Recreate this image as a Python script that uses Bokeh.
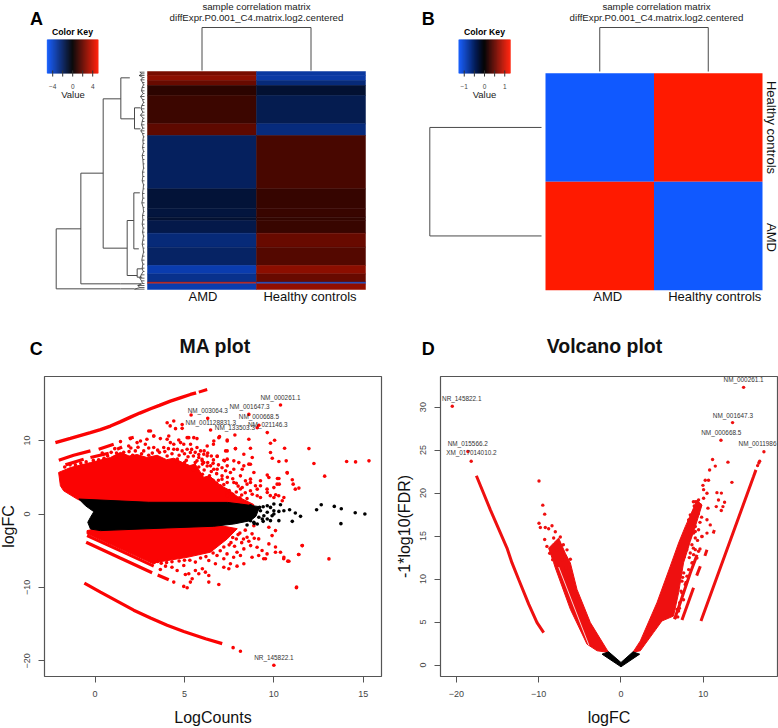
from bokeh.plotting import figure
from bokeh.layouts import column, row
from bokeh.models import Range1d, LinearColorMapper, FixedTicker, ColumnDataSource
from bokeh.transform import transform
from bokeh.core.properties import value
from bokeh.embed import file_html
from bokeh.resources import INLINE

FONT = "Liberation Sans"
RED = "#fb0303"
LINE = "#4a4a4a"
TXT = "#222222"
BLUE_END = (16, 89, 255)
RED_END = (255, 26, 0)

palette = []
for i in range(128):
    f = (127 - i) / 127
    palette.append("#%02x%02x%02x" % tuple(int(c * f) for c in BLUE_END))
for i in range(128):
    f = i / 127
    palette.append("#%02x%02x%02x" % tuple(int(c * f) for c in RED_END))

# ---------- heatmap A ----------
samples = ["AMD", "Healthy controls"]
title_1 = "sample correlation matrix"
title_2 = "diffExpr.P0.001_C4.matrix.log2.centered"
rows_top = [0, 12, 27, 42, 72, 157, 192, 352, 412, 437, 447, 485, 527, 582, 607, 632, 637]
rows_bot = [12, 27, 42, 72, 157, 192, 352, 412, 437, 447, 485, 527, 582, 607, 632, 637, 654]
amd_vals = [2.4, 2.8, 2.1, 0.9, 1.2, 1.9, -1.9, -1.15, -1.25, -1.0, -1.5, -2.4, -2.0, -3.5, -2.8, 3.8, -3.5]
hc_vals = [-3.2, -3.3, -2.4, -1.0, -1.6, -2.5, 1.45, 1.1, 1.15, 1.0, 1.15, 2.1, 1.7, 2.8, 2.1, -3.8, 2.9]
key_a_ticks = [-4, -2, 0, 2, 4]
key_a_labels = ["\u22124", "0", "4"]
key_a_label_at = [-4, 0, 4]
key_a_steps = [-5.1 + 0.2 * i for i in range(51)]
# row dendrogram of A: height, lower row, upper row of each join, then arms
dend_h = [265, 191, 124, 71, 30, 52, 32, 22]
dend_r1 = [472, 305, 82, 19, 109, 447, 364, 592]
dend_r2 = [652, 637, 530, 142, 172, 612, 532, 617]
arm_h_from = [265, 265, 191, 191, 124, 124, 71, 71, 30, 30, 52, 52, 32, 32, 22, 22, 72, 72]
arm_h_to = [191, 72, 124, 72, 71, 52, 44, 30, 12, 12, 32, 22, 14, 17, 7, 7, 30, 10]
arm_r = [472, 652, 305, 637, 82, 530, 19, 142, 109, 172, 447, 612, 364, 532, 592, 617, 652, 637]
leaf_r = [2, 7, 12, 18, 25, 33, 40, 48, 58, 66, 75, 84, 93, 102, 112, 122, 131, 140, 150, 160, 170, 178, 186,
          196, 206, 216, 228, 240, 252, 264, 277, 290, 302, 315, 328, 340, 352, 366, 380, 394, 408, 420, 432,
          445, 458, 470, 482, 494, 506, 518, 530, 542, 554, 566, 578, 590, 600, 610, 620, 628, 636, 642, 648, 653]
leaf_h = [14, 8, 16, 5, 11, 6, 3, 7, 9, 4, 12, 6, 3, 8, 10, 5, 12, 4, 7, 9, 5, 11, 6, 3, 5, 4, 6, 3, 7, 5, 4, 3,
          6, 5, 7, 3, 4, 6, 5, 8, 4, 3, 6, 5, 7, 4, 6, 3, 5, 7, 4, 3, 6, 8, 5, 7, 4, 10, 14, 9, 6, 20, 14, 30]

# ---------- heatmap B ----------
corr_amd = [-1, 1]
corr_hc = [1, -1]
key_b_ticks = [-1, -0.5, 0, 0.5, 1]
key_b_labels = ["\u22121", "0", "1"]
key_b_label_at = [-1, 0, 1]
key_b_steps = [-1.27 + 0.05 * i for i in range(51)]

# ---------- MA plot ----------
ma_band_1 = [(-2.22, 9.72), (-1.38, 10.3), (-0.26, 11.08), (0.3, 11.5), (0.86, 11.98), (1.4, 12.55), (1.98, 13.2), (2.5, 13.75),
             (3.1, 14.34), (3.6, 14.8), (4.21, 15.37), (4.8, 15.85), (5.33, 16.28), (5.65, 16.5)]
ma_band_1b = [(5.8, 16.6), (6.27, 16.96)]
ma_band_2a = [(-2.03, 7.32), (-1.2, 8.0), (-0.26, 8.6)]
ma_band_2b = [(0.2, 8.82), (1.04, 9.5)]
ma_band_2c = [(1.88, 10.27), (2.16, 10.45)]
ma_band_3a = [(-1.66, 6.69), (-0.64, 7.46)]
ma_band_3b = [(-0.26, 7.69), (0.76, 8.28)]
ma_band_3c = [(1.23, 8.82), (1.51, 9.13)]
ma_band_4 = [(-0.5, -3.84), (1.4, -6.0), (3.19, -8.0)]
ma_band_4b = [(3.5, -8.3), (4.12, -8.96)]
ma_band_5 = [(-0.45, -2.95), (1.4, -5.0), (3.28, -7.1)]
ma_band_6 = [(-0.6, -9.41), (0.3, -10.63), (1.23, -11.86), (2.16, -13.1), (3.1, -14.16), (4.03, -15.16), (4.96, -16.0), (6.18, -17.0),
             (7.11, -17.65)]
ma_red_up = [(-2.04, 5.66), (-1.38, 6.33), (-0.26, 7.0), (0.86, 7.7), (1.42, 8.4), (1.9, 7.9), (2.35, 8.1), (2.9, 7.7), (3.47, 8.0),
             (4.0, 7.4), (4.4, 7.6), (4.9, 7.0), (5.3, 6.6), (5.6, 6.8), (6.07, 5.0), (6.4, 5.2), (7.0, 3.9), (7.4, 3.4), (7.95, 2.4),
             (8.87, 1.3), (8.87, 1.0), (-0.6, 1.6), (-1.0, 2.03), (-1.76, 3.16), (-1.94, 3.84)]
ma_red_low = [(-0.45, -2.26), (0.48, -1.8), (7.0, -1.58), (7.95, -2.0), (7.39, -3.4), (6.45, -5.2), (5.15, -5.9),
              (3.47, -6.56), (3.28, -6.8), (-0.45, -2.7)]
ma_black = [(-0.91, 2.04), (3.0, 1.6), (7.4, 1.58), (8.13, 1.36), (9.2, 1.0), (9.0, -0.3), (8.7, -0.9), (7.76, -1.36),
            (6.64, -1.67), (4.03, -1.9), (0.3, -2.26), (-0.26, -2.04), (-0.41, -1.13), (-0.26, -0.45), (-0.07, 0.32),
            (-0.54, 1.13)]
ma_red_pts = [(10.37, 14.84), (8.6, 13.57), (5.37, 13.48), (6.3, 13.03), (4.03, 12.44), (4.4, 12.67), (4.2, 12.0),
              (4.5, 11.63), (4.87, 12.2), (4.87, 11.67), (6.46, 11.45), (9.16, 12.08), (9.07, 11.76), (9.63, 11.09),
              (6.96, 10.54), (7.82, 10.77), (7.39, 9.95), (8.6, 10.18), (10.04, 10.05), (9.81, 9.64), (8.69, 8.96),
              (10.6, 8.96), (11.96, 8.91), (9.81, 8.37), (12.24, 6.88), (14.07, 7.15), (14.57, 7.1), (15.32, 7.24),
              (10.28, 7.15), (10.69, 7.24), (9.91, 7.6), (8.32, 8.14), (7.85, 8.91), (7.39, 8.6), (7.24, 7.24),
              (8.79, 7.69), (7.39, 7.47), (6.83, 7.83), (6.27, 7.92), (5.9, 8.6), (5.34, 9.5), (5.52, 10.4),
              (5.15, 10.4), (4.4, 9.5), (4.78, 9.73), (4.03, 10.18), (3.28, 10.63), (3.0, 11.3), (2.54, 9.95),
              (8.32, 6.56), (8.6, 6.79), (7.76, 6.1), (7.39, 6.56), (6.83, 6.1), (6.46, 6.56), (6.08, 7.0), (5.7, 7.24),
              (8.13, 5.2), (8.69, 4.75), (9.25, 4.52), (9.63, 5.3), (10.2, 4.84), (10.75, 5.57), (11.03, 4.66),
              (11.08, 4.07), (11.2, 3.39), (11.4, 3.53), (12.84, 5.16), (10.56, 2.26), (10.47, 1.81), (10.1, 2.62),
              (7.76, 4.3), (7.0, 3.85), (8.13, 3.4), (8.5, 4.07), (9.07, 3.39), (9.63, 2.94), (9.25, 2.26), (7.39, 2.94),
              (8.79, 2.7), (10.0, 3.6), (10.3, 4.07), (9.8, 2.5),
              (1.98, 10.27), (1.42, 9.86), (3.1, 11.3), (3.28, 10.63), (3.65, 10.27), (4.12, 10.63), (4.68, 10.08),
              (5.24, 10.4), (5.7, 10.27), (4.21, 9.73), (2.9, 10.18), (2.35, 9.73), (1.88, 9.27), (3.28, 9.05), (2.81, 9.5),
              (3.84, 9.05), (4.4, 8.82), (4.96, 9.5), (5.15, 8.82), (5.7, 9.05), (6.27, 9.27), (6.62, 9.5), (6.08, 8.14),
              (5.5, 7.9), (4.87, 8.6), (6.83, 7.9), (5.98, 7.46), (4.03, 7.9), (2.72, 8.6), (2.25, 8.6), (0.9, 8.4),
              (3.0, 8.0), (3.6, 8.4), (4.6, 7.5), (5.1, 7.3), (1.9, 8.5), (1.1, 8.9), (0.4, 8.3),
              (6.64, 9.95), (6.92, 10.4), (7.39, 10.08), (7.85, 8.9), (7.3, 8.6), (8.69, 6.78), (8.04, 7.0), (7.76, 7.24),
              (7.2, 7.33), (6.62, 7.37), (5.99, 7.24), (8.23, 6.1), (7.57, 5.66), (8.88, 5.66), (9.72, 4.98), (10.28, 4.84),
              (10.74, 5.66), (10.18, 4.07), (10.27, 2.48), (10.0, 2.26), (9.62, 3.39), (8.97, 3.84), (8.69, 4.3), (8.41, 4.52),
              (9.25, 3.84), (8.69, 3.16), (9.07, 2.48), (8.23, 3.62), (7.39, 4.3), (7.1, 4.75), (6.64, 6.1), (6.27, 6.55),
              (5.8, 7.7), (5.33, 8.37), (6.4, 5.2), (6.9, 4.6), (7.5, 3.2), (8.2, 2.6), (7.9, 3.0), (8.5, 2.1), (6.6, 4.6),
              (2.0, 9.0), (2.4, 9.1), (2.6, 8.2), (3.0, 9.0), (3.2, 8.3), (3.5, 8.7), (3.9, 8.5), (4.1, 8.9), (4.3, 8.2), (4.6, 8.8),
              (4.7, 8.0), (5.0, 8.2), (5.2, 7.8), (5.4, 8.8), (5.6, 8.4), (5.8, 8.1), (6.1, 8.6), (6.3, 8.3), (6.5, 7.9), (6.0, 6.8),
              (6.3, 7.0), (6.6, 6.9), (6.9, 6.7), (7.1, 6.3), (7.3, 5.9), (5.6, 7.0), (5.8, 6.4), (6.1, 6.0), (6.5, 5.8), (6.8, 5.5),
              (7.1, 5.2), (7.4, 5.0), (7.7, 4.8), (7.9, 4.2), (8.0, 3.8), (7.2, 4.0), (6.8, 4.2), (5.5, 6.0), (6.0, 5.4), (4.6, 7.1),
              (5.0, 7.0), (7.7, 2.7), (8.1, 2.2), (8.4, 2.9), (7.4, 2.5),
              (-1.7, 6.4), (-1.4, 6.7), (-1.1, 6.7), (-0.8, 6.9), (-0.5, 7.1), (-0.1, 7.3), (0.2, 7.4), (0.5, 7.6), (0.7, 7.9), (1.2, 8.3),
              (1.6, 8.4), (2.1, 8.0),
              (11.58, -4.3), (11.38, -5.52), (11.26, -10.04), (10.78, -6.42), (10.55, -6.1), (10.37, -5.2), (10.09, -4.5),
              (9.62, -5.43), (9.53, -6.1), (9.15, -5.65), (9.34, -4.97), (9.06, -4.52), (9.15, -3.39), (9.72, -1.8),
              (10.09, -2.26), (9.9, -2.94), (9.72, -4.07), (8.88, -1.6), (8.78, -2.7), (8.5, -3.16), (8.7, -4.3), (8.32, -4.75),
              (8.13, -5.65), (8.78, -5.88), (8.32, -6.78), (7.94, -7.1), (7.57, -6.78), (7.2, -7.24), (7.48, -7.46), (6.92, -9.6),
              (6.36, -9.27), (6.36, -8.37), (6.17, -7.92), (6.0, -7.46), (5.61, -7.69), (5.8, -8.14), (5.43, -8.82), (5.33, -9.27),
              (5.15, -10.04), (4.96, -9.86), (4.4, -9.27), (5.05, -8.23), (5.24, -8.14), (4.59, -7.69), (4.3, -7.24), (4.96, -7.01),
              (3.94, -7.1), (3.65, -7.55), (3.5, -6.47), (6.73, -6.78), (6.36, -6.33), (5.61, -6.55), (7.2, -6.1), (9.43, -6.1),
              (7.94, -5.2), (7.38, -5.43), (7.75, -5.88), (6.82, -5.65), (13.08, -6.11), (11.59, -4.3), (11.4, -5.52),
              (10.84, -6.43), (10.56, -5.88), (10.09, -5.2), (7.72, -18.2), (8.13, -18.7), (10.0, -20.6), (11.27, -9.95),
              (8.2, -3.9), (7.8, -4.4), (7.5, -4.2), (8.0, -2.8), (8.4, -2.2),
              (3.7, -6.7), (4.0, -6.6), (4.3, -6.5), (4.7, -6.4), (5.0, -6.3), (5.3, -6.3), (5.9, -6.0), (6.2, -5.8), (6.6, -5.3),
              (7.0, -5.0), (7.2, -4.5), (7.6, -3.9), (7.9, -3.4), (8.1, -2.6), (8.3, -3.4), (8.6, -3.7), (8.9, -3.3), (7.7, -3.2)]
ma_black_pts = [(10.0, 1.36), (10.37, 1.27), (10.88, 0.59), (10.56, 0.45), (11.2, 0.14), (11.49, -0.32), (11.03, -1.0),
                (10.28, -0.9), (10.28, 0.36), (9.9, -0.23), (10.0, 0.0), (10.0, 0.45), (9.63, 1.13), (9.81, 0.9), (9.63, 0.23),
                (9.44, -0.23), (9.35, -0.68), (9.63, -0.68), (9.16, -0.45), (8.88, -1.13), (9.07, -1.36), (8.5, -1.5), (8.69, -0.9),
                (9.25, 0.45), (9.07, 0.68), (8.69, 1.13), (9.81, -0.9), (12.39, 0.59), (12.65, 1.27), (13.38, 1.04), (13.77, 0.72),
                (13.75, -1.31), (14.55, 0.18), (15.09, 0.0), (9.4, 1.0), (9.2, 0.9), (8.9, -1.3), (9.4, -1.0)]
ma_labels = ["NM_000261.1", "NM_003064.3", "NM_001647.3", "NM_000668.5", "NM_001128831.3", "NM_133503.3", "NM_021146.3",
             "NR_145822.1"]
ma_label_x = [10.37, 6.3, 8.64, 9.16, 6.47, 7.82, 9.66, 10.0]
ma_label_y = [15.93, 14.12, 14.62, 13.26, 12.44, 11.81, 12.17, -19.5]

# ---------- volcano plot ----------
vo_left_mass = [(-1.5, 1.47), (-3.72, 4.94), (-5.34, 8.79), (-6.15, 11.88), (-6.76, 13.0), (-7.57, 14.77), (-8.18, 14.2),
                (-8.79, 13.6), (-8.18, 11.9), (-7.98, 11.3), (-6.15, 6.48), (-4.13, 2.43), (-2.9, 1.66)]
vo_right_mass = [(1.46, 1.5), (2.35, 2.81), (4.37, 7.25), (5.99, 11.5), (7.0, 14.2), (7.81, 16.1), (8.63, 17.85), (9.23, 19.2),
                 (9.84, 18.6), (9.03, 16.1), (8.42, 14.38), (7.6, 11.88), (7.0, 8.4), (6.39, 5.7), (4.98, 5.13), (3.96, 3.78),
                 (2.35, 1.66)]
vo_black = [(-2.3, 1.27), (-1.5, 1.54), (0.0, 0.3), (1.46, 1.54), (2.27, 1.27), (0.0, -0.2)]
vo_band_l = [(-17.57, 22.02), (-15.87, 18.05), (-13.85, 13.61), (-13.24, 11.88), (-12.43, 9.95), (-11.2, 7.06), (-10.2, 4.94), (-9.39, 3.78)]
vo_band_r = [(9.72, 5.13), (16.1, 21.9), (16.4, 22.7)]
vo_band_r2 = [(7.41, 5.24), (8.82, 8.99)]
vo_band_r3 = [(6.51, 5.32), (7.2, 7.25), (8.42, 10.7), (9.03, 12.26), (9.23, 12.84)]
vo_band_r4 = [(9.2, 10.4), (9.64, 11.5)]
vo_band_r5 = [(10.2, 12.7), (10.45, 13.4)]
vo_band_r6 = [(11.2, 15.3), (11.35, 15.7)]
vo_gap = [(-7.57, 11.4), (-3.9, 2.3)]
vo_pts = [(14.9, 32.3), (13.56, 28.2), (12.15, 26.15), (11.13, 23.9), (13.0, 23.6), (11.46, 23.14), (10.77, 22.68), (13.48, 21.25),
          (17.37, 24.8), (-20.5, 30.1), (-18.6, 24.84), (-18.2, 23.7), (11.66, 20.05), (12.2, 20.0), (11.85, 19.2), (12.59, 18.94),
          (11.58, 18.43), (12.39, 18.43), (12.19, 17.97), (10.45, 19.98), (10.57, 18.25), (10.04, 19.4), (10.24, 21.5), (10.64, 21.5),
          (9.96, 20.9), (10.04, 20.4), (10.45, 16.9), (10.85, 16.3), (10.45, 15.35), (9.84, 14.96), (9.03, 15.54), (8.9, 18.5), (8.8, 19.0),
          (9.4, 17.6), (9.8, 17.2), (9.6, 16.6), (8.9, 17.3), (9.3, 14.5), (9.6, 13.5), (8.8, 13.6), (8.4, 15.4), (8.0, 13.4), (8.3, 12.5),
          (8.7, 11.9), (7.7, 12.6), (7.5, 10.2), (7.9, 9.6), (7.3, 8.6), (7.6, 7.6), (7.1, 6.6), (6.9, 5.6), (16.6, 23.2), (16.75, 23.5), (16.85, 23.7),
          (9.03, 19.0), (9.43, 19.2), (9.64, 18.63), (9.23, 18.24), (8.82, 17.86), (8.42, 17.47), (8.82, 17.09), (8.22, 16.89), (8.62, 16.5),
          (9.03, 16.12), (9.43, 15.74), (9.84, 14.96), (8.82, 15.35), (9.03, 14.77), (8.42, 14.96), (8.62, 14.0), (9.03, 13.42), (8.42, 13.04),
          (8.82, 12.84), (9.43, 13.23), (9.23, 12.46), (8.62, 11.88), (8.22, 11.1), (7.62, 10.72), (8.02, 10.34), (7.41, 9.76), (7.81, 9.37),
          (7.41, 8.41), (7.13, 7.25), (6.6, 7.44), (6.8, 6.48), (7.0, 6.28), (6.6, 5.52),
          (-9.96, 21.4), (-9.5, 18.6), (-9.27, 17.55), (-9.96, 16.5), (-9.8, 16.0), (-9.2, 16.0), (-8.79, 15.85), (-8.38, 16.2), (-7.98, 15.5),
          (-9.27, 14.6), (-8.18, 14.77), (-7.37, 14.9), (-7.57, 14.2), (-7.0, 14.0), (-6.56, 13.4), (-6.15, 12.3), (-9.0, 13.8), (-8.66, 13.0),
          (-8.3, 12.26), (-7.17, 12.26), (-6.68, 11.3), (-6.36, 10.14), (-7.8, 13.4), (-7.2, 13.2), (-6.9, 12.6)]
vo_labels = ["NM_000261.1", "NR_145822.1", "NM_015566.2", "XM_017014010.2", "NM_001647.3", "NM_000668.5"]
vo_label_x = [14.9, -19.35, -18.62, -18.18, 13.6, 12.19]
vo_label_y = [33.2, 31.05, 25.76, 24.68, 29.08, 27.1]
vo_edge_label = "NM_0011986"
vo_edge_x = 14.29
vo_edge_y = 25.72


def xs(pts):
    return [p[0] for p in pts]


def ys(pts):
    return [p[1] for p in pts]


def panel(x0, x1, y0, y1):
    p = figure(width=x1 - x0, height=y1 - y0, x_range=Range1d(x0, x1), y_range=Range1d(y1, y0),
               output_backend="svg", toolbar_location=None, x_axis_type=None, y_axis_type=None,
               min_border=0, min_border_left=0, min_border_right=0, min_border_top=0, min_border_bottom=0)
    p.grid.visible = False
    p.outline_line_color = None
    return p


def sub(p, xsrc, ysrc, xt, yt):
    return p.subplot(x_source=Range1d(*xsrc), y_source=Range1d(*ysrc), x_target=Range1d(*xt), y_target=Range1d(*yt))


def tx(g, x, y, t, size, color=TXT, bold=False, angle=0.0, align="center"):
    g.text(x=x, y=y, text=value(t), text_font=value(FONT), text_font_size=value(size), text_color=color,
           text_align=align, text_baseline="middle", angle=angle,
           text_font_style="bold" if bold else "normal")


def key(p, box, lo, hi, steps, ticks, labs, lab_at, step):
    mapper = LinearColorMapper(palette=palette, low=lo, high=hi)
    left, right, top, bottom = box
    g = sub(p, (lo, hi), (0, 1), (left, right), (bottom, top))
    g_src = ColumnDataSource(dict(v=[s + step / 2 for s in steps], l=steps, r=[s + step for s in steps]))
    g.quad(left="l", right="r", bottom=0, top=1, source=g_src, fill_color=transform("v", mapper),
           line_color=transform("v", mapper), line_width=0.5)
    g.segment(x0=ticks, x1=ticks, y0=[0] * len(ticks), y1=[-0.1] * len(ticks), line_color="#333333", line_width=1)
    g.segment(x0=ticks, x1=ticks, y0=[0] * len(ticks), y1=[0.08] * len(ticks), line_color="#333333", line_width=1)
    g.text(x=lab_at, y=[-0.39] * len(lab_at), text=labs, text_font=value(FONT), text_font_size=value("6.5px"),
           text_color="#444444", text_align="center", text_baseline="middle")


# ======== Panel A ========
A = panel(0, 389, 0, 320)
tx(A, [36], [18], "A", "18px", "#000000", True)
tx(A, [256], [6], title_1, "9.7px")
tx(A, [256], [16.5], title_2, "9.7px")
tx(A, [72], [31], "Color Key", "8.7px", "#000000", True)
tx(A, [72.5], [94], "Value", "9.5px")
key(A, (46.7, 97.7, 39.3, 72.7), -5.1, 5.1, key_a_steps, key_a_ticks, key_a_labels, key_a_label_at, 0.2)
map_a = LinearColorMapper(palette=palette, low=-5.1, high=5.1)
hA = sub(A, (0, 2), (0, 654), (147, 365), (71, 289))
srcA = ColumnDataSource(dict(t=rows_top, b=rows_bot, a=amd_vals, h=hc_vals))
hA.quad(left=0, right=1, top="t", bottom="b", source=srcA, fill_color=transform("a", map_a),
        line_color=transform("a", map_a), line_width=0.5)
hA.quad(left=1, right=2, top="t", bottom="b", source=srcA, fill_color=transform("h", map_a),
        line_color=transform("h", map_a), line_width=0.5)
hA.text(x=[0.5, 1.5], y=[654 + 21, 654 + 21], text=samples, text_font=value(FONT), text_font_size=value("13px"),
        text_color="#111111", text_align="center", text_baseline="middle", x_offset=[1, -1])
# column dendrogram
tA = sub(A, (0, 2), (0, 1), (147, 365), (70, 27))
tA.line(x=[0.5, 0.5, 1.5, 1.5], y=[0, 1, 1, 0], line_color=LINE, line_width=1)
# row dendrogram
dA = sub(A, (0, 265), (0, 654), (144, 55.7), (71, 289))
dA.segment(x0=dend_h, x1=dend_h, y0=dend_r1, y1=dend_r2, line_color=LINE, line_width=1)
dA.segment(x0=arm_h_from, x1=arm_h_to, y0=arm_r, y1=arm_r, line_color=LINE, line_width=1)
dA.segment(x0=[0] * len(leaf_r), x1=leaf_h, y0=leaf_r, y1=leaf_r, line_color="#222222", line_width=0.7)
dA.line(x=leaf_h, y=leaf_r, line_color="#333333", line_width=0.8)

# ======== Panel B ========
B = panel(389, 778, 0, 320)
tx(B, [427.7], [18], "B", "18px", "#000000", True)
tx(B, [656], [6], title_1, "9.7px")
tx(B, [656], [16.5], title_2, "9.7px")
tx(B, [484], [31], "Color Key", "8.7px", "#000000", True)
tx(B, [484], [94], "Value", "9.5px")
key(B, (458.3, 509.7, 39.3, 72.7), -1.27, 1.27, key_b_steps, key_b_ticks, key_b_labels, key_b_label_at, 0.05)
map_b = LinearColorMapper(palette=palette, low=-1, high=1)
hB = sub(B, (0, 2), (0, 2), (545, 762), (72.7, 289.7))
srcB = ColumnDataSource(dict(t=[0, 1], b=[1, 2], a=corr_amd, h=corr_hc))
hB.quad(left=0, right=1, top="t", bottom="b", source=srcB, fill_color=transform("a", map_b), line_color=None)
hB.quad(left=1, right=2, top="t", bottom="b", source=srcB, fill_color=transform("h", map_b), line_color=None)
hB.text(x=[0.5, 1.5], y=[2.06, 2.06], text=samples, text_font=value(FONT), text_font_size=value("13px"),
        text_color="#111111", text_align="center", text_baseline="middle", x_offset=[8, 6.5])
tB = sub(B, (0, 2), (0, 1), (545, 762), (71, 27))
tB.line(x=[0.5, 0.5, 1.5, 1.5], y=[0, 1, 1, 0], line_color=LINE, line_width=1)
dB = sub(B, (0, 1), (0, 2), (541, 429.3), (72.7, 289.7))
dB.line(x=[0, 1, 1, 0], y=[0.5, 0.5, 1.5, 1.5], line_color=LINE, line_width=1)
tx(B, [771], [127], samples[1], "13px", "#111111", angle=-1.5708)
tx(B, [771], [237], samples[0], "13px", "#111111", angle=-1.5708)

# ======== Header of the lower panels ========
H = panel(0, 778, 320, 372)
tx(H, [35.7], [348], "C", "18px", "#000000", True)
tx(H, [427.7], [348], "D", "18px", "#000000", True)
tx(H, [214.7], [345], "MA plot", "19.5px", "#111111", True)
tx(H, [604], [345], "Volcano plot", "19.5px", "#111111", True)


def scatter_axes(x_range, y_range, width, height, left, right, top, bottom, xlabel, ylabel, xticks, yticks, s_x, s_y, margin):
    p = figure(width=width, height=height, x_range=Range1d(*x_range), y_range=Range1d(*y_range), output_backend="svg",
               toolbar_location=None, min_border_left=left, min_border_right=right, min_border_top=top,
               min_border_bottom=bottom, x_axis_label=xlabel, y_axis_label=ylabel, margin=margin)
    p.grid.visible = False
    p.outline_line_color = "#555555"
    p.outline_line_width = 1.2
    for ax, ticks in ((p.xaxis, xticks), (p.yaxis, yticks)):
        ax.ticker = FixedTicker(ticks=ticks)
        ax.minor_tick_line_color = None
        ax.axis_line_color = None
        ax.major_tick_line_color = "#555555"
        ax.major_tick_in = 0
        ax.major_tick_out = 6
        ax.major_label_text_font = FONT
        ax.major_label_text_font_size = "9px"
        ax.major_label_text_color = "#444444"
        ax.major_label_standoff = 8
        ax.axis_label_text_font = FONT
        ax.axis_label_text_font_size = "16px"
        ax.axis_label_text_font_style = "normal"
        ax.axis_label_text_color = "#111111"
    p.xaxis.axis_label_standoff = s_x
    p.yaxis.axis_label_standoff = s_y
    p.yaxis.major_label_orientation = "vertical"
    return p


# ======== Panel C ========
C = scatter_axes((-2.83, 16.02), (-22.13, 18.73), 395, 356, 50, 8, 4, 50, "LogCounts", "logFC",
                 [0, 5, 10, 15], [-20, -10, 0, 10], 9, 5, (0, 0, 0, -6))
C.patch(xs(ma_red_up), ys(ma_red_up), fill_color=RED, line_color=RED)
C.patch(xs(ma_red_low), ys(ma_red_low), fill_color=RED, line_color=RED)
for band, w in ((ma_band_1, 3.4), (ma_band_1b, 3.0), (ma_band_2a, 3.2), (ma_band_2b, 3.2), (ma_band_2c, 3.2), (ma_band_3a, 3.2),
                (ma_band_3b, 3.2), (ma_band_3c, 3.2), (ma_band_4, 3.2), (ma_band_4b, 3.2), (ma_band_5, 3.0), (ma_band_6, 3.2)):
    C.line(xs(band), ys(band), line_color=RED, line_width=w)
C.scatter(xs(ma_red_pts), ys(ma_red_pts), size=3.6, fill_color=RED, line_color=None)
C.patch(xs(ma_black), ys(ma_black), fill_color="#000000", line_color="#000000")
C.scatter(xs(ma_black_pts), ys(ma_black_pts), size=3.6, fill_color="#000000", line_color=None)
C.text(x=ma_label_x, y=ma_label_y, text=ma_labels, text_font=value(FONT), text_font_size=value("6.4px"),
       text_color="#333333", text_align="center", text_baseline="middle")

# ======== Panel D ========
D = scatter_axes((-21.93, 19.02), (-1.33, 33.56), 389, 356, 51, 1, 4, 51, "logFC", "-1*log10(FDR)",
                 [-20, -10, 0, 10], [0, 5, 10, 15, 20, 25, 30], 9, 5, (0, 0, 0, 0))
VR = "#ee1010"
D.patch(xs(vo_left_mass), ys(vo_left_mass), fill_color=VR, line_color=VR)
D.patch(xs(vo_right_mass), ys(vo_right_mass), fill_color=VR, line_color=VR)
D.line(xs(vo_gap), ys(vo_gap), line_color="#ffffff", line_width=0.8)
for band, w in ((vo_band_l, 3.0), (vo_band_r, 3.0), (vo_band_r2, 3.0), (vo_band_r3, 3.0), (vo_band_r4, 3.0), (vo_band_r5, 3.0),
                (vo_band_r6, 3.0)):
    D.line(xs(band), ys(band), line_color=VR, line_width=w)
D.scatter(xs(vo_pts), ys(vo_pts), size=3.4, fill_color=VR, line_color=None)
D.patch(xs(vo_black), ys(vo_black), fill_color="#000000", line_color="#000000")
D.text(x=vo_label_x, y=vo_label_y, text=vo_labels, text_font=value(FONT), text_font_size=value("6.4px"),
       text_color="#333333", text_align="center", text_baseline="middle")
D.text(x=[vo_edge_x], y=[vo_edge_y], text=[vo_edge_label], text_font=value(FONT), text_font_size=value("6.4px"),
       text_color="#333333", text_align="left", text_baseline="middle")

page = column(row(A, B, spacing=0), H, row(C, D, spacing=0), spacing=0)
open("out.html", "w").write(file_html(page, INLINE))
